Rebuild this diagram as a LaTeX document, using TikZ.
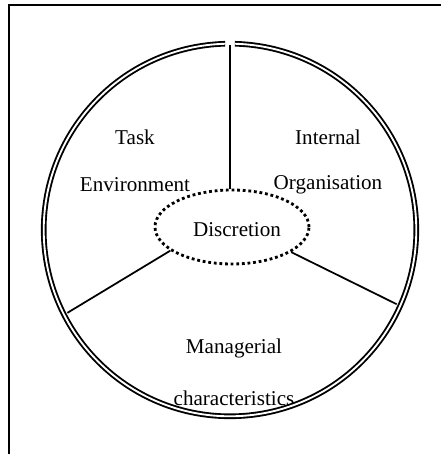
\documentclass[tikz,border=0pt]{standalone}
\usepackage{fontspec}
\setmainfont{Liberation Serif}
\usetikzlibrary{positioning}
\usetikzlibrary{shapes.geometric}

\begin{document}
\begin{tikzpicture}[x=0.03cm, y=0.03cm,
    every node/.style={font=\fontsize{18}{20}\selectfont, inner sep=0pt},
    spoke/.style={line width=1.5pt},
    rim/.style={double, line width=1.6pt, double distance=1.6pt}]
            \useasboundingbox (0,0) rectangle (441,454);
            % Marco
            \draw[line width=2pt] (9,0) -- (9,449) -- (441,449);

            % Nodos
            \coordinate (c) at (230,224);
            \node[draw, ellipse, line width=2.4pt, dash pattern=on 2.4pt off 2.4pt,
                  minimum width=4.62cm, minimum height=2.22cm] (disc) at (232,227) {};
            \node at (237,224) {Discretion};
            \node (task) at (135,317) {Task};
            \node (env) at (135,269) {Environment};
            \node (int) at (328,317) {Internal};
            \node (org) at (328,269) {Organisation};
            \node (man) at (234,106) {Managerial};
            \node (chr) at (234,56) {characteristics};

            % Circulo
            \draw[rim] ([shift={(91.5:186.3)}]c) arc[start angle=91.5, end angle=448.5, radius=186.3];
            \coordinate (top) at ([shift={(90:184.5)}]c);
            \coordinate (left) at ([shift={(207:182.5)}]c);
            \coordinate (right) at ([shift={(336:182.5)}]c);

            % Aristas
            \draw[spoke] (top) -- (top |- disc.north);
            \draw[spoke] (left) -- (disc.201);
            \draw[spoke] (right) -- (disc.337);
          \end{tikzpicture}
\end{document}
